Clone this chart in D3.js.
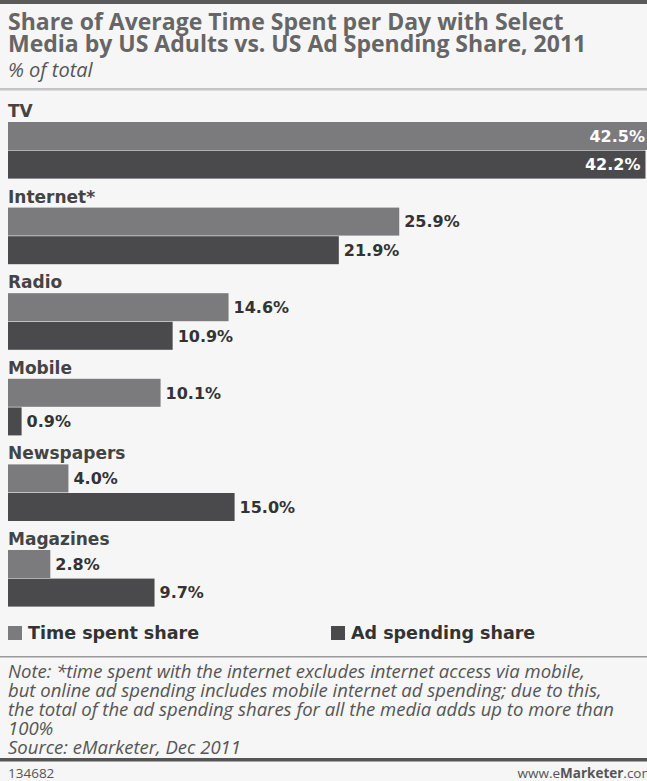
<!DOCTYPE html>
<html>
<head>
<meta charset="utf-8">
<script src="https://cdn.jsdelivr.net/npm/d3@7"></script>
<style>
  body { margin: 0; background: #f6f6f6; }
  svg { display: block; }
</style>
</head>
<body>
<div id="chart"></div>
<script>
const categories = ["TV", "Internet*", "Radio", "Mobile", "Newspapers", "Magazines"];
const timeSpent = [42.5, 25.9, 14.6, 10.1, 4.0, 2.8];
const adSpending = [42.2, 21.9, 10.9, 0.9, 15.0, 9.7];
const seriesNames = ["Time spent share", "Ad spending share"];
const seriesColors = ["#7b7b7e", "#4a4a4d"];

const title = ["Share of Average Time Spent per Day with Select",
  "Media by US Adults vs. US Ad Spending Share, 2011"];
const subtitle = "% of total";
const notes = [
  "Note: *time spent with the internet excludes internet access via mobile,",
  "but online ad spending includes mobile internet ad spending; due to this,",
  "the total of the ad spending shares for all the media adds up to more than",
  "100%",
  "Source: eMarketer, Dec 2011"
];

const width = 647, height = 781;
const left = 8;
const barH = 28;

const svg = d3.select("#chart")
  .append("svg")
  .attr("width", width)
  .attr("height", height)
  .style("font-family", "'DejaVu Sans', sans-serif");

svg.append("rect")
  .attr("width", width).attr("height", height)
  .attr("fill", "#f6f6f6");

// top rule
svg.append("rect")
  .attr("x", 0).attr("y", 0).attr("width", width).attr("height", 4)
  .attr("fill", "#5a5a5a");

svg.append("g")
  .selectAll("text")
  .data(title)
  .enter()
  .append("text")
  .attr("x", left)
  .attr("y", (d, i) => 30 + i * 21.5)
  .attr("fill", "#666")
  .style("font-family", "'Open Sans', sans-serif")
  .style("font-weight", "bold")
  .style("font-size", "23px")
  .text(d => d);

svg.append("text")
  .attr("x", left)
  .attr("y", 77)
  .attr("fill", "#555")
  .style("font-family", "'Open Sans', sans-serif")
  .style("font-style", "italic")
  .style("font-size", "20px")
  .text(subtitle);

svg.append("rect")
  .attr("x", 0).attr("y", 88).attr("width", width).attr("height", 2.5)
  .attr("fill", "#c4c4c4");

const x = d3.scaleLinear()
  .domain([0, 42.5])
  .range([left, 650]);

const y = d3.scaleBand()
  .domain(categories)
  .range([103, 103 + 6 * 85.6]);

const rows = categories.map((c, i) => ({
  cat: c,
  vals: [timeSpent[i], adSpending[i]]
}));

const groups = svg.append("g")
  .selectAll("g")
  .data(rows)
  .enter()
  .append("g")
  .attr("transform", d => "translate(0," + y(d.cat) + ")");

groups.append("text")
  .attr("x", left)
  .attr("y", 14)
  .attr("fill", "#444")
  .style("font-weight", "bold")
  .style("font-size", "17px")
  .text(d => d.cat);

const bars = groups.selectAll("g.bar")
  .data(d => d.vals.map((v, j) => ({ v, j })))
  .enter()
  .append("g")
  .attr("class", "bar")
  .attr("transform", d => "translate(0," + (19 + d.j * (barH + 0.6)) + ")");

bars.append("rect")
  .attr("x", x(0))
  .attr("width", d => x(d.v) - x(0))
  .attr("height", barH)
  .attr("fill", d => seriesColors[d.j]);

bars.append("text")
  .attr("x", d => x(d.v) > 560 ? x(d.v) - 5 : x(d.v) + 5)
  .attr("y", barH / 2)
  .attr("dy", "0.36em")
  .attr("text-anchor", d => x(d.v) > 560 ? "end" : "start")
  .attr("fill", d => x(d.v) > 560 ? "#fff" : "#333")
  .style("font-weight", "bold")
  .style("font-size", "16px")
  .text(d => d3.format(".1f")(d.v) + "%");

// legend
const legend = svg.append("g")
  .selectAll("g")
  .data(seriesNames)
  .enter()
  .append("g")
  .attr("transform", (d, i) => "translate(" + (i === 0 ? left : 331) + ",626)");

legend.append("rect")
  .attr("width", 14).attr("height", 14)
  .attr("fill", (d, i) => seriesColors[i]);

legend.append("text")
  .attr("x", 20)
  .attr("y", 7)
  .attr("dy", "0.36em")
  .attr("fill", "#333")
  .style("font-weight", "bold")
  .style("font-size", "17.5px")
  .text(d => d);

svg.append("rect")
  .attr("x", 0).attr("y", 656).attr("width", width).attr("height", 1.5)
  .attr("fill", "#999");

svg.append("g")
  .selectAll("text")
  .data(notes)
  .enter()
  .append("text")
  .attr("x", left)
  .attr("y", (d, i) => 678 + i * 19)
  .attr("fill", "#555")
  .style("font-family", "'Open Sans', sans-serif")
  .style("font-style", "italic")
  .style("font-size", "18.5px")
  .text(d => d);

svg.append("rect")
  .attr("x", 0).attr("y", 758).attr("width", width).attr("height", 3.5)
  .attr("fill", "#555");

svg.append("text")
  .attr("x", left)
  .attr("y", 778)
  .attr("fill", "#555")
  .style("font-family", "'Open Sans', sans-serif")
  .style("font-size", "13.5px")
  .text("134682");

const site = svg.append("text")
  .attr("x", 654)
  .attr("y", 778)
  .attr("text-anchor", "end")
  .attr("fill", "#555")
  .style("font-family", "'Open Sans', sans-serif")
  .style("font-size", "13.5px");
site.append("tspan").text("www.e");
site.append("tspan").style("font-weight", "bold").text("Marketer");
site.append("tspan").text(".com");
</script>
</body>
</html>
